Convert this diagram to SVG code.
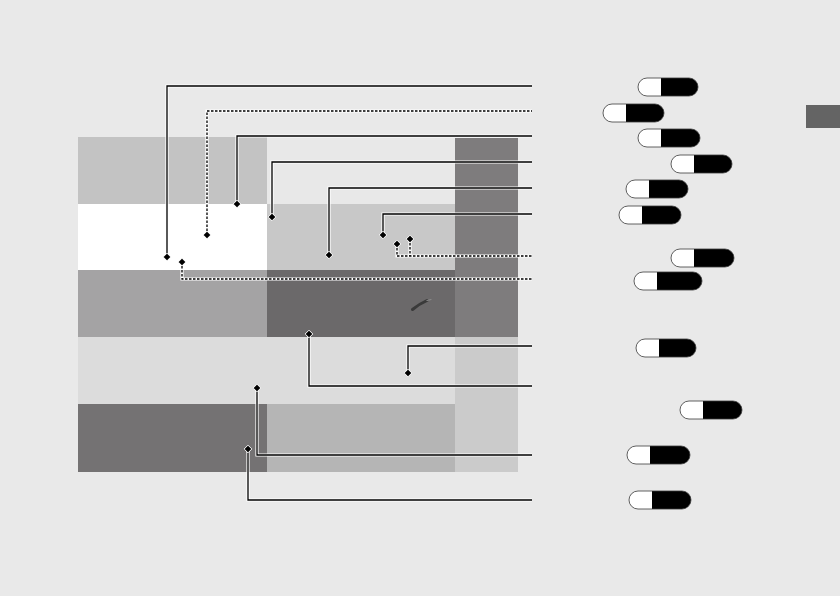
<svg xmlns="http://www.w3.org/2000/svg" width="840" height="596" viewBox="0 0 840 596">
<style>
.halo{fill:none;stroke:#ffffff;stroke-width:3.2;stroke-linejoin:miter}
.ln{fill:none;stroke:#000000;stroke-width:1.3}
.dt{fill:none;stroke:#000000;stroke-width:1.3;stroke-dasharray:2.5 1.5}
.dot{fill:#000000;stroke:#ffffff;stroke-width:1}
.pw{fill:#ffffff}
.pb{fill:#000000}
.po{fill:none;stroke:#3a3a3a;stroke-width:0.8}
</style>
<defs>
<path id="dm" d="M0,-3.8 L3.8,0 L0,3.8 L-3.8,0 Z"/>
</defs>
<rect x="0" y="0" width="840" height="596" fill="#e9e9e9"/>
<g id="photo">
<rect x="78" y="137" width="189" height="67" fill="#c3c3c3"/>
<rect x="267" y="137" width="188" height="67" fill="#e8e8e8"/>
<rect x="78" y="204" width="189" height="66" fill="#ffffff"/>
<rect x="267" y="204" width="188" height="66" fill="#c8c8c8"/>
<rect x="78" y="270" width="189" height="67" fill="#a4a3a4"/>
<rect x="267" y="270" width="188" height="67" fill="#6b696a"/>
<rect x="455" y="138" width="63" height="199" fill="#7e7c7d"/>
<rect x="78" y="337" width="377" height="67" fill="#dcdcdc"/>
<rect x="455" y="337" width="63" height="135" fill="#cbcbcb"/>
<rect x="78" y="404" width="189" height="68" fill="#747273"/>
<rect x="267" y="404" width="188" height="68" fill="#b5b5b5"/>
<path d="M412.5,309.5 Q419,304 427,300.5" fill="none" stroke="#3a3a3a" stroke-width="3" stroke-linecap="round"/>
<path d="M427,300.5 L431,299.5" fill="none" stroke="#8a8a8a" stroke-width="1.2" stroke-linecap="round"/>
</g>
<rect id="tab" x="806" y="105" width="34" height="23" fill="#646464"/>
<g id="connectors">
<path class="halo" d="M167,257 V86 H532"/><path class="ln" d="M167,257 V86 H532"/>
<path class="halo" d="M207,235 V111 H532"/><path class="dt" d="M207,235 V111 H532"/>
<path class="halo" d="M237,204 V136 H532"/><path class="ln" d="M237,204 V136 H532"/>
<path class="halo" d="M272,217 V162 H532"/><path class="ln" d="M272,217 V162 H532"/>
<path class="halo" d="M329,255 V188 H532"/><path class="ln" d="M329,255 V188 H532"/>
<path class="halo" d="M383,235 V214 H532"/><path class="ln" d="M383,235 V214 H532"/>
<path class="halo" d="M397,244 V256 H532 M410,239 V256"/><path class="dt" d="M397,244 V256 H532 M410,239 V256"/>
<path class="halo" d="M182,262 V279 H532"/><path class="dt" d="M182,262 V279 H532"/>
<path class="halo" d="M408,373 V346 H532"/><path class="ln" d="M408,373 V346 H532"/>
<path class="halo" d="M309,334 V386 H532"/><path class="ln" d="M309,334 V386 H532"/>
<path class="halo" d="M257,388 V455 H532"/><path class="ln" d="M257,388 V455 H532"/>
<path class="halo" d="M248,449 V500 H532"/><path class="ln" d="M248,449 V500 H532"/>
<use href="#dm" class="dot" x="167" y="257"/>
<use href="#dm" class="dot" x="207" y="235"/>
<use href="#dm" class="dot" x="237" y="204"/>
<use href="#dm" class="dot" x="272" y="217"/>
<use href="#dm" class="dot" x="329" y="255"/>
<use href="#dm" class="dot" x="383" y="235"/>
<use href="#dm" class="dot" x="397" y="244"/>
<use href="#dm" class="dot" x="410" y="239"/>
<use href="#dm" class="dot" x="182" y="262"/>
<use href="#dm" class="dot" x="408" y="373"/>
<use href="#dm" class="dot" x="309" y="334"/>
<use href="#dm" class="dot" x="257" y="388"/>
<use href="#dm" class="dot" x="248" y="449"/>
</g>
<g id="pill1"><rect class="pw" x="638" y="78" width="60" height="18" rx="9"/><path class="pb" d="M661,78 H689 A9,9 0 0 1 689,96 H661 Z"/><rect class="po" x="638" y="78" width="60" height="18" rx="9"/></g>
<g id="pill2"><rect class="pw" x="603" y="104" width="61" height="18" rx="9"/><path class="pb" d="M626,104 H655 A9,9 0 0 1 655,122 H626 Z"/><rect class="po" x="603" y="104" width="61" height="18" rx="9"/></g>
<g id="pill3"><rect class="pw" x="638" y="129" width="62" height="18" rx="9"/><path class="pb" d="M661,129 H691 A9,9 0 0 1 691,147 H661 Z"/><rect class="po" x="638" y="129" width="62" height="18" rx="9"/></g>
<g id="pill4"><rect class="pw" x="671" y="155" width="61" height="18" rx="9"/><path class="pb" d="M694,155 H723 A9,9 0 0 1 723,173 H694 Z"/><rect class="po" x="671" y="155" width="61" height="18" rx="9"/></g>
<g id="pill5"><rect class="pw" x="626" y="180" width="62" height="18" rx="9"/><path class="pb" d="M649,180 H679 A9,9 0 0 1 679,198 H649 Z"/><rect class="po" x="626" y="180" width="62" height="18" rx="9"/></g>
<g id="pill6"><rect class="pw" x="619" y="206" width="62" height="18" rx="9"/><path class="pb" d="M642,206 H672 A9,9 0 0 1 672,224 H642 Z"/><rect class="po" x="619" y="206" width="62" height="18" rx="9"/></g>
<g id="pill7"><rect class="pw" x="671" y="249" width="63" height="18" rx="9"/><path class="pb" d="M694,249 H725 A9,9 0 0 1 725,267 H694 Z"/><rect class="po" x="671" y="249" width="63" height="18" rx="9"/></g>
<g id="pill8"><rect class="pw" x="634" y="272" width="68" height="18" rx="9"/><path class="pb" d="M657,272 H693 A9,9 0 0 1 693,290 H657 Z"/><rect class="po" x="634" y="272" width="68" height="18" rx="9"/></g>
<g id="pill9"><rect class="pw" x="636" y="339" width="60" height="18" rx="9"/><path class="pb" d="M659,339 H687 A9,9 0 0 1 687,357 H659 Z"/><rect class="po" x="636" y="339" width="60" height="18" rx="9"/></g>
<g id="pill10"><rect class="pw" x="680" y="401" width="62" height="18" rx="9"/><path class="pb" d="M703,401 H733 A9,9 0 0 1 733,419 H703 Z"/><rect class="po" x="680" y="401" width="62" height="18" rx="9"/></g>
<g id="pill11"><rect class="pw" x="627" y="446" width="63" height="18" rx="9"/><path class="pb" d="M650,446 H681 A9,9 0 0 1 681,464 H650 Z"/><rect class="po" x="627" y="446" width="63" height="18" rx="9"/></g>
<g id="pill12"><rect class="pw" x="629" y="491" width="62" height="18" rx="9"/><path class="pb" d="M652,491 H682 A9,9 0 0 1 682,509 H652 Z"/><rect class="po" x="629" y="491" width="62" height="18" rx="9"/></g>
</svg>
